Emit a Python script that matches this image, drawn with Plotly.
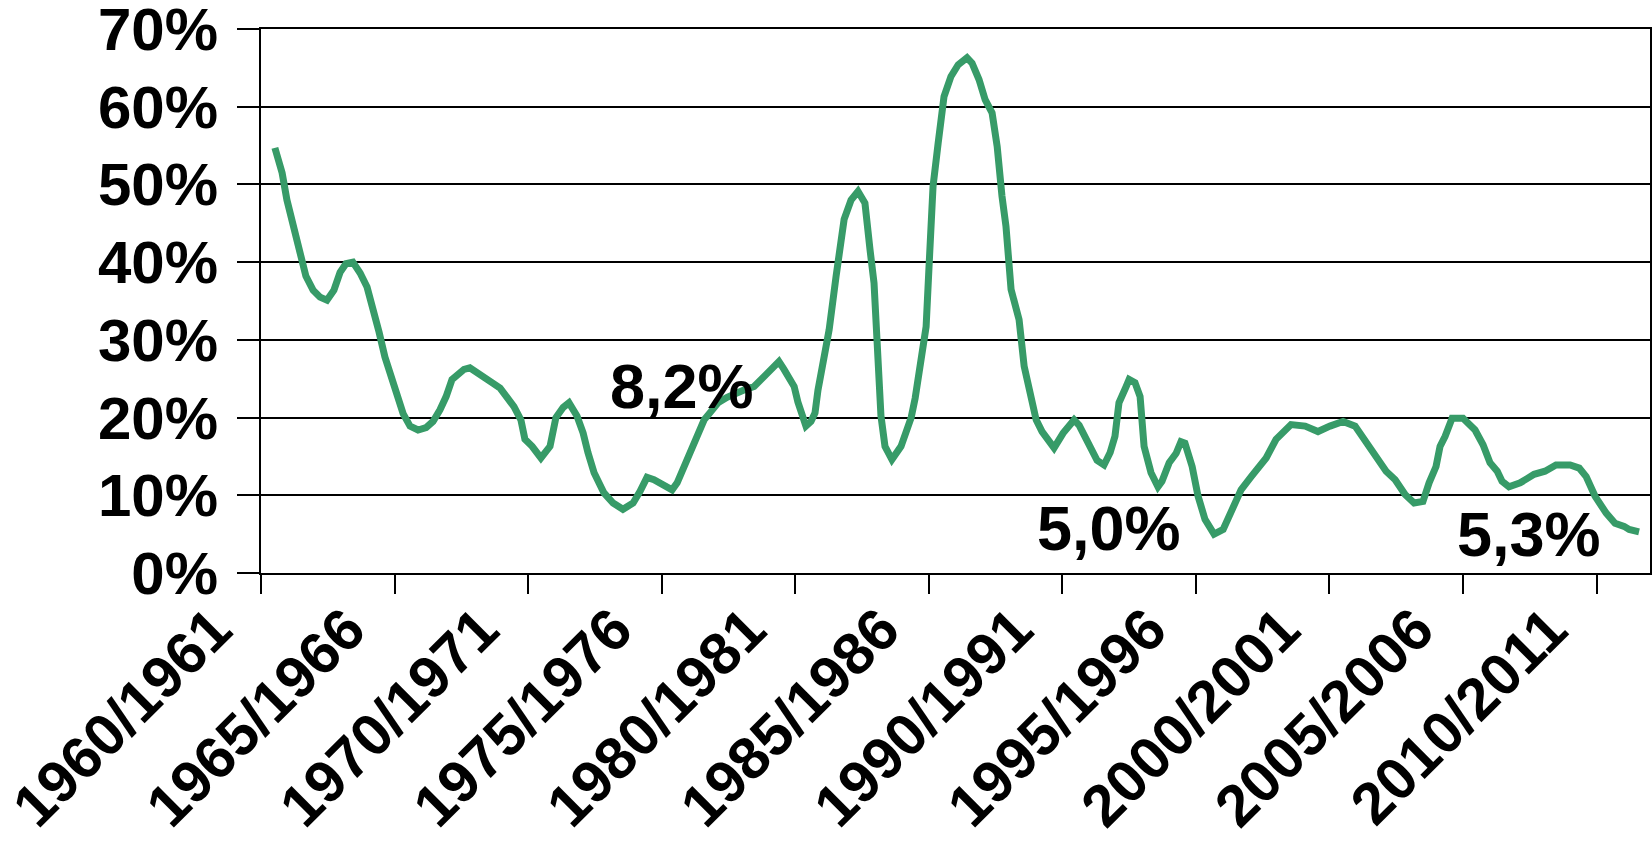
import plotly.graph_objects as go

# ---- data ----
years = [
    1960.52, 1960.79, 1960.97, 1961.20, 1961.46, 1961.68, 1961.95, 1962.21, 1962.47, 1962.73,
    1962.96, 1963.18, 1963.44, 1963.71, 1963.97, 1964.19, 1964.42, 1964.64, 1964.87, 1965.09,
    1965.32, 1965.58, 1965.88, 1966.18, 1966.44, 1966.70, 1966.93, 1967.15, 1967.38, 1967.60,
    1967.82, 1968.12, 1968.42, 1968.69, 1968.95, 1969.21, 1969.47, 1969.73, 1969.88, 1970.15,
    1970.48, 1970.82, 1971.04, 1971.31, 1971.53, 1971.83, 1972.06, 1972.24, 1972.47, 1972.84,
    1973.18, 1973.55, 1973.93, 1974.19, 1974.45, 1974.71, 1974.98, 1975.39, 1975.58, 1975.80,
    1975.99, 1976.21, 1976.40, 1976.59, 1976.85, 1977.11, 1977.45, 1977.78, 1978.12, 1978.46,
    1978.72, 1978.94, 1979.13, 1979.39, 1979.58, 1979.77, 1979.96, 1980.10, 1980.29, 1980.40,
    1980.59, 1980.74, 1980.85, 1981.00, 1981.27, 1981.53, 1981.83, 1982.09, 1982.35, 1982.61,
    1982.69, 1982.80, 1982.95, 1983.02, 1983.10, 1983.21, 1983.36, 1983.62, 1983.96, 1984.34,
    1984.49, 1984.63, 1984.75, 1984.90, 1985.01, 1985.16, 1985.35, 1985.50, 1985.57, 1985.83,
    1986.10, 1986.43, 1986.62, 1986.88, 1987.11, 1987.37, 1987.56, 1987.74, 1987.89, 1988.08,
    1988.38, 1988.57, 1988.83, 1989.02, 1989.24, 1989.43, 1989.69, 1990.03, 1990.44, 1990.63,
    1990.85, 1991.04, 1991.30, 1991.56, 1991.79, 1991.97, 1992.12, 1992.39, 1992.50, 1992.72,
    1992.91, 1993.06, 1993.32, 1993.58, 1993.73, 1994.00, 1994.26, 1994.44, 1994.59, 1994.86,
    1995.08, 1995.34, 1995.68, 1996.02, 1996.39, 1996.69, 1997.07, 1997.63, 1998.00, 1998.56,
    1999.09, 1999.57, 2000.02, 2000.51, 2000.96, 2001.45, 2001.78, 2002.12, 2002.46, 2002.83,
    2003.17, 2003.50, 2003.73, 2003.99, 2004.14, 2004.33, 2004.59, 2005.00, 2005.45, 2005.75,
    2006.01, 2006.28, 2006.46, 2006.72, 2007.14, 2007.66, 2008.07, 2008.48, 2009.01, 2009.35,
    2009.61, 2009.94, 2010.36, 2010.69, 2011.03, 2011.22, 2011.59,
]

shares = [
    54.7, 51.5, 48.0, 44.6, 41.2, 38.2, 36.4, 35.5, 35.1, 36.4,
    38.7, 39.8, 40.0, 38.6, 36.8, 34.2, 31.0, 27.8, 25.4, 22.8,
    20.5, 18.9, 18.4, 18.7, 19.5, 21.0, 22.7, 24.9, 25.5, 26.2,
    26.4, 25.8, 25.2, 24.4, 23.8, 22.6, 21.4, 19.7, 17.2, 16.3,
    14.8, 16.3, 20.0, 21.3, 21.9, 20.2, 18.0, 15.5, 12.9, 10.3,
    9.0, 8.2, 9.0, 10.5, 12.3, 12.0, 11.4, 10.7, 11.6, 13.3,
    14.8, 16.3, 18.0, 19.7, 20.8, 21.9, 22.6, 23.2, 23.6, 24.0,
    24.9, 25.5, 26.2, 27.2, 26.2, 25.0, 24.0, 22.0, 20.2, 18.9,
    19.5, 20.6, 23.5, 26.6, 31.3, 38.2, 45.5, 48.0, 49.1, 47.6,
    44.2, 41.6, 37.3, 32.0, 26.6, 20.2, 16.3, 14.6, 16.3, 20.0,
    22.5, 25.3, 27.5, 31.7, 39.5, 49.8, 55.3, 59.6, 61.3, 63.9,
    65.4, 66.3, 65.6, 63.5, 60.9, 59.2, 54.9, 48.5, 44.6, 36.5,
    32.6, 26.6, 22.7, 19.7, 18.2, 17.2, 16.1, 18.0, 19.7, 19.0,
    17.4, 16.5, 14.5, 13.9, 15.5, 17.6, 21.9, 24.0, 24.9, 24.5,
    22.7, 16.3, 12.9, 11.1, 11.8, 14.2, 15.4, 16.9, 16.7, 13.7,
    9.9, 6.9, 5.0, 5.6, 8.6, 10.7, 12.4, 14.8, 17.2, 19.1,
    18.9, 18.2, 18.9, 19.5, 18.9, 16.5, 14.8, 13.1, 12.0, 10.1,
    9.0, 9.2, 11.6, 13.7, 16.3, 17.6, 19.9, 19.9, 18.4, 16.5,
    14.2, 13.1, 11.8, 11.1, 11.6, 12.7, 13.1, 13.9, 13.9, 13.5,
    12.4, 9.9, 7.7, 6.4, 6.0, 5.6, 5.3,
]

x_tick_years = [1960, 1965, 1970, 1975, 1980, 1985, 1990, 1995, 2000, 2005, 2010]
x_tick_labels = ["1960/1961", "1965/1966", "1970/1971", "1975/1976", "1980/1981",
                 "1985/1986", "1990/1991", "1995/1996", "2000/2001", "2005/2006",
                 "2010/2011"]
y_tick_values = [0, 10, 20, 30, 40, 50, 60, 70]
y_tick_labels = ["0%", "10%", "20%", "30%", "40%", "50%", "60%", "70%"]

callout_texts = ["8,2%", "5,0%", "5,3%"]

# ---- figure ----
FONT = "Liberation Sans, Arial, sans-serif"
fig = go.Figure()
fig.add_trace(go.Scatter(
    x=years, y=shares, mode="lines",
    line=dict(color="#379B68", width=7),
    hoverinfo="skip", showlegend=False,
))

ann_font = dict(family=FONT, size=63, color="black", weight="bold")
fig.add_annotation(x=1975.76, y=24.1, text=callout_texts[0], showarrow=False, font=ann_font)
fig.add_annotation(x=1991.75, y=5.8, text=callout_texts[1], showarrow=False, font=ann_font)
fig.add_annotation(x=2007.47, y=5.05, text=callout_texts[2], showarrow=False, font=ann_font)

fig.update_layout(
    template="none",
    width=1652, height=842,
    margin=dict(l=261, r=2, t=29, b=269, pad=0),
    paper_bgcolor="white", plot_bgcolor="white",
    font=dict(family=FONT, color="black"),
    showlegend=False,
)
fig.update_xaxes(
    automargin=False,
    range=[1960, 2012.0],
    tickmode="array", tickvals=x_tick_years, ticktext=x_tick_labels,
    tickangle=-45,
    tickfont=dict(family=FONT, size=59, color="black", weight="bold"),
    ticks="outside", ticklen=19, tickwidth=2, tickcolor="black",
    ticklabelshift=-47, ticklabelstandoff=-23,
    ticklabeloverflow="allow",
    showline=True, linecolor="black", linewidth=2, mirror=True,
    showgrid=False, zeroline=False,
)
fig.update_yaxes(
    automargin=False,
    range=[0, 70],
    tickmode="array", tickvals=y_tick_values, ticktext=y_tick_labels,
    tickfont=dict(family=FONT, size=60, color="black", weight="bold"),
    ticks="outside", ticklen=22, tickwidth=2, tickcolor="black",
    ticklabelstandoff=7,
    ticklabeloverflow="allow",
    showline=True, linecolor="black", linewidth=2, mirror=True,
    showgrid=True, gridcolor="black", gridwidth=2, zeroline=False,
)

fig.write_html(
    "out.html",
    config={"displayModeBar": False},
    post_script="document.body.style.margin='0';document.body.style.overflow='hidden';",
)
